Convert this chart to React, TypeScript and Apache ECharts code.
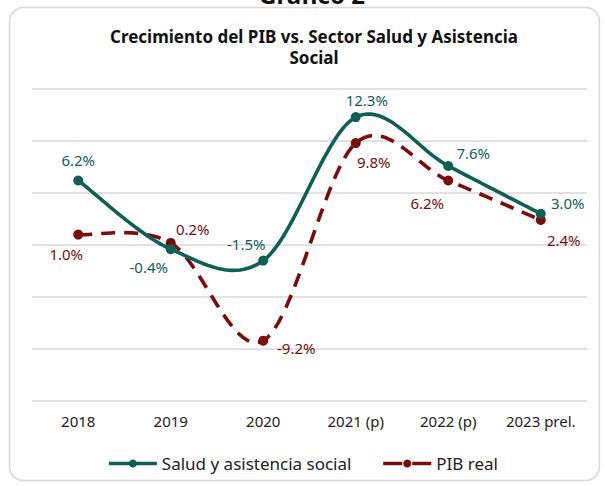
import React, { useEffect, useRef } from "react";
import * as echarts from "echarts";

const categories = ["2018", "2019", "2020", "2021 (p)", "2022 (p)", "2023 prel."];
const saludValues = [6.2, -0.4, -1.5, 12.3, 7.6, 3.0];
const pibValues = [1.0, 0.2, -9.2, 9.8, 6.2, 2.4];
const saludLabelOffsets = [[0, -21], [-22, 18], [-17, -17], [11, -17], [25, -13], [27, -11]];
const pibLabelOffsets = [[-12, 19], [22, -14], [33, 7], [18, 19], [-21, 22], [23, 20]];

const TEAL = "#0f5f54";
const RED = "#7a0c0c";
const FONT = "'Noto Sans', sans-serif";

function smoothPoints(pts: number[][]): number[][] {
  const out: number[][] = [];
  const n = pts.length;
  for (let i = 0; i < n - 1; i++) {
    const p0 = pts[Math.max(0, i - 1)];
    const p1 = pts[i];
    const p2 = pts[i + 1];
    const p3 = pts[Math.min(n - 1, i + 2)];
    const c1 = [p1[0] + (p2[0] - p0[0]) / 6, p1[1] + (p2[1] - p0[1]) / 6];
    const c2 = [p2[0] - (p3[0] - p1[0]) / 6, p2[1] - (p3[1] - p1[1]) / 6];
    const steps = 24;
    for (let s = i === 0 ? 0 : 1; s <= steps; s++) {
      const t = s / steps;
      const mt = 1 - t;
      const a = mt * mt * mt, b = 3 * mt * mt * t, c = 3 * mt * t * t, d = t * t * t;
      out.push([
        a * p1[0] + b * c1[0] + c * c2[0] + d * p2[0],
        a * p1[1] + b * c1[1] + c * c2[1] + d * p2[1],
      ]);
    }
  }
  return out;
}

export default function App() {
  const ref = useRef<HTMLDivElement>(null);
  useEffect(() => {
    if (!ref.current) return;
    const chart = echarts.init(ref.current, undefined, { renderer: "svg" });
    const mk = (vals: number[], offs: number[][], color: string) =>
      vals.map((v, i) => ({
        value: v,
        label: {
          show: true,
          position: "inside",
          offset: offs[i],
          formatter: (p: any) => p.value.toFixed(1) + "%",
          color,
          fontSize: 15,
          fontFamily: FONT,
        },
      }));
    const curve = (name: string, vals: number[], color: string, dash: number[] | null, z: number) => ({
      name,
      type: "custom",
      silent: true,
      z,
      data: [[0, vals[0]]],
      renderItem: (_params: any, api: any) => {
        const pts = vals.map((v, i) => api.coord([i, v]));
        return {
          type: "polyline",
          shape: { points: smoothPoints(pts) },
          style: {
            stroke: color,
            lineWidth: 3.6,
            fill: null,
            lineDash: dash || undefined,
            lineCap: "butt",
            lineJoin: "round",
          },
        };
      },
    });
    chart.setOption({
      animation: false,
      backgroundColor: "#ffffff",
      title: {
        text: "Crecimiento del PIB vs. Sector Salud y Asistencia\nSocial",
        left: 309,
        textAlign: "center",
        top: 21,
        textStyle: {
          fontFamily: FONT,
          fontWeight: "bold",
          fontSize: 17,
          lineHeight: 21,
          color: "#111111",
        },
      },
      graphic: [
        {
          type: "rect",
          shape: { x: 9.5, y: 7.5, width: 590, height: 473, r: 14 },
          style: { fill: "none", stroke: "#d9d9d9", lineWidth: 1.5 },
          z: -1,
        },
        {
          type: "text",
          x: 312,
          y: 6,
          style: {
            text: "Gráfico 2",
            fontFamily: FONT,
            fontWeight: "bold",
            fontSize: 24,
            fill: "#111111",
            textAlign: "center",
            textVerticalAlign: "bottom",
          },
        },
      ],
      legend: {
        bottom: 9,
        left: "center",
        itemWidth: 48,
        itemHeight: 10,
        itemGap: 30,
        textStyle: { fontFamily: FONT, fontSize: 17, color: "#222222" },
        data: [
          {
            name: "Salud y asistencia social",
            lineStyle: { color: TEAL, width: 3.6, opacity: 1, type: "solid" },
          },
          {
            name: "PIB real",
            lineStyle: { color: RED, width: 3.6, opacity: 1, type: [19, 10] },
          },
        ],
      },
      grid: { left: 32, right: 18, top: 89, bottom: 85 },
      xAxis: {
        type: "category",
        data: categories,
        boundaryGap: true,
        axisLine: { show: false },
        axisTick: { show: false },
        axisLabel: { fontFamily: FONT, fontSize: 15, color: "#222222", margin: 12 },
      },
      yAxis: {
        type: "value",
        min: -15,
        max: 15,
        interval: 5,
        axisLabel: { show: false },
        axisLine: { show: false },
        axisTick: { show: false },
        splitLine: { lineStyle: { color: "#d9d9d9", width: 1.5 } },
      },
      series: [
        curve("_saludCurve", saludValues, TEAL, null, 3),
        curve("_pibCurve", pibValues, RED, [14, 9], 2),
        {
          name: "Salud y asistencia social",
          type: "line",
          data: mk(saludValues, saludLabelOffsets, TEAL),
          symbol: "circle",
          symbolSize: 10,
          lineStyle: { color: TEAL, width: 3.6, opacity: 0 },
          itemStyle: { color: TEAL },
          z: 5,
        },
        {
          name: "PIB real",
          type: "line",
          data: mk(pibValues, pibLabelOffsets, RED),
          symbol: "circle",
          symbolSize: 10,
          lineStyle: { color: RED, width: 3.6, opacity: 0 },
          itemStyle: { color: RED },
          z: 4,
        },
      ],
    });
    return () => chart.dispose();
  }, []);
  return (
    <div
      ref={ref}
      style={{ position: "fixed", left: 0, top: 0, width: 605, height: 486, background: "#fff" }}
    />
  );
}
